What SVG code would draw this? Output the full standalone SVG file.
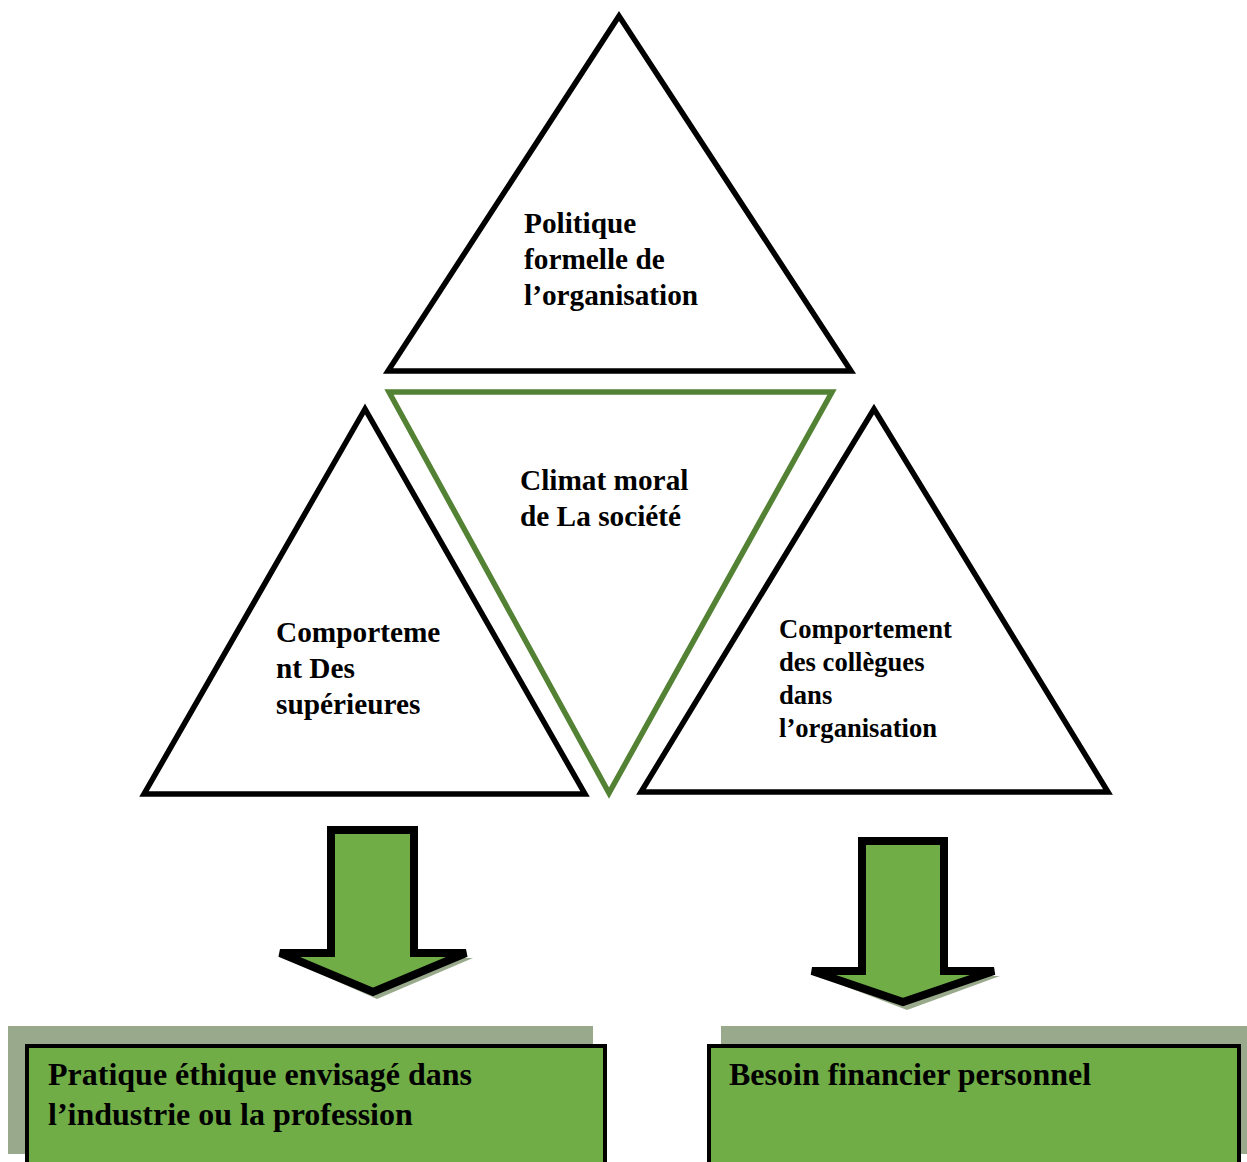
<svg xmlns="http://www.w3.org/2000/svg" width="1247" height="1162" viewBox="0 0 1247 1162">
<style>
.tri{fill:#fff;stroke:#000;stroke-width:5.5;stroke-linejoin:miter}
.gtri{fill:#fff;stroke:#548235;stroke-width:5.5}
.arrow{fill:#70AD47;stroke:#000;stroke-width:8;stroke-linejoin:miter}
.shadow{fill:#99A98B}
.box{fill:#70AD47;stroke:#000;stroke-width:4}
text{font-family:"Liberation Serif","Times New Roman",serif;font-weight:bold;fill:#000}
.t{font-size:29.3px}
.s{font-size:26.6px}
.b{font-size:32px}
</style>
<rect width="1247" height="1162" fill="#fff"/>
<g id="node-politique">
<polygon class="tri" points="619,16 388,371 851,371"/>
<text class="t" x="524" y="233">Politique</text>
<text class="t" x="524" y="269">formelle de</text>
<text class="t" x="524" y="305">l’organisation</text>
</g>
<g id="node-climat">
<polygon class="gtri" points="389,392 832,392 609,793"/>
<text class="t" x="520" y="490">Climat moral</text>
<text class="t" x="520" y="526">de La société</text>
</g>
<g id="node-superieures">
<polygon class="tri" points="365,409 144,794 585,794"/>
<text class="t" x="276" y="642">Comporteme</text>
<text class="t" x="276" y="678">nt Des</text>
<text class="t" x="276" y="714">supérieures</text>
</g>
<g id="node-collegues">
<polygon class="tri" points="874,409 641,792 1108,792"/>
<text class="s" x="779" y="638">Comportement</text>
<text class="s" x="779" y="671">des collègues</text>
<text class="s" x="779" y="704">dans</text>
<text class="s" x="779" y="737">l’organisation</text>
</g>
<g id="connectors">
<polygon class="shadow" points="335,835 418,835 418,958 473,958 377,999 284,958 335,958"/>
<polygon class="arrow" points="331,830 414,830 414,953 466,953 373,992 280,953 331,953"/>
<polygon class="shadow" points="866,846 948,846 948,976 1000,976 907,1010 818,976 866,976"/>
<polygon class="arrow" points="862,841 944,841 944,971 994,971 903,1002 812,971 862,971"/>
</g>
<g id="node-pratique">
<rect class="shadow" x="8" y="1026" width="585" height="128"/>
<rect class="box" x="27" y="1046" width="578" height="130"/>
<text class="b" x="48" y="1085">Pratique éthique envisagé dans</text>
<text class="b" x="48" y="1125">l’industrie ou la profession</text>
</g>
<g id="node-besoin">
<rect class="shadow" x="721" y="1026" width="530" height="128"/>
<rect class="box" x="709" y="1046" width="530" height="130"/>
<text class="b" x="729" y="1085">Besoin financier personnel</text>
</g>
</svg>
